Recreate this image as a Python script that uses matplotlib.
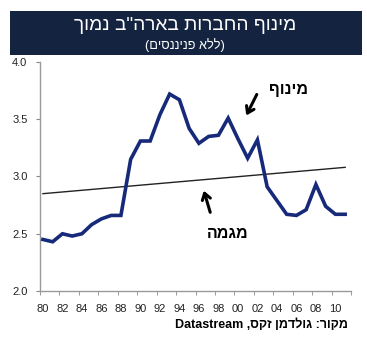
import matplotlib
matplotlib.use("Agg")
import matplotlib.pyplot as plt
from matplotlib.patches import Rectangle
import numpy as np

# ---- data ----
years = list(range(1980, 2012))
leverage = [2.45, 2.43, 2.50, 2.48, 2.50, 2.58, 2.63, 2.66, 2.66, 3.15,
            3.31, 3.31, 3.54, 3.72, 3.67, 3.42, 3.29, 3.35, 3.36, 3.51,
            3.33, 3.16, 3.32, 2.91, 2.79, 2.67, 2.66, 2.71, 2.93, 2.74,
            2.67, 2.67]
trend_years = [1980, 2011]
trend_values = [2.85, 3.08]
yticks = [2.0, 2.5, 3.0, 3.5, 4.0]
xtick_years = list(range(1980, 2011, 2))
xtick_labels = ["80", "82", "84", "86", "88", "90", "92", "94", "96", "98",
                "00", "02", "04", "06", "08", "10"]

# Hebrew strings in visual (left-to-right) order
title_text = "ךומנ ב\"הראב תורבחה ףונימ"
subtitle_text = "(םיסננינפ אלל)"
label_leverage = "ףונימ"
label_trend = "המגמ"
source_text = "Datastream ,סקז ןמדלוג :רוקמ"

FAM = ["Liberation Sans", "DejaVu Sans"]
plt.rcParams["font.family"] = FAM

W, H = 367, 340
fig = plt.figure(figsize=(W / 100, H / 100), dpi=100)
fig.patch.set_facecolor("white")

# title box
fig.patches.append(Rectangle((10 / W, 1 - 55 / H), 352 / W, 44 / H,
                             transform=fig.transFigure, facecolor="#14233f",
                             edgecolor="none", zorder=0))
fig.text(185.5 / W, 1 - 25 / H, title_text, color="white", fontsize=13.8,
         ha="center", va="center")
fig.text(185 / W, 1 - 45 / H, subtitle_text, color="white", fontsize=9.2,
         ha="center", va="center")

ax = fig.add_axes([40 / W, 1 - 291 / H, 311 / W, (291 - 62) / H])
ax.plot(years, leverage, color="#172a7a", lw=2.6, solid_joinstyle="miter",
        zorder=3)
ax.plot(trend_years, trend_values, color="#222222", lw=1.0, zorder=2)

ax.set_xlim(1979.7, 2011.6)
ax.set_ylim(2.0, 4.0)
ax.set_yticks(yticks)
ax.set_yticklabels([f"{v:.1f}" for v in yticks])
ax.set_xticks(xtick_years)
ax.set_xticklabels(xtick_labels)
ax.set_xticks(np.linspace(1979.7, 2011.6, 17), minor=True)
ax.tick_params(axis="x", which="major", length=0, pad=9, labelsize=8,
               colors="#222222")
ax.tick_params(axis="x", which="minor", length=3, color="#888888",
               direction="out")
ax.tick_params(axis="y", which="major", length=3, color="#888888",
               labelsize=8, labelcolor="#222222", pad=6)
for s in ["top", "right"]:
    ax.spines[s].set_visible(False)
for s in ["left", "bottom"]:
    ax.spines[s].set_color("#999999")
    ax.spines[s].set_linewidth(1.0)

# annotations (positions in pixel coordinates of the figure)
def fig_xy(px, py):
    return (px / W, 1 - py / H)

fig.text(288.5 / W, 1 - 90 / H, label_leverage, fontsize=11.5,
         fontweight="heavy", ha="center", va="center", color="black")
fig.text(227.5 / W, 1 - 233.5 / H, label_trend, fontsize=11.5,
         fontweight="heavy", ha="center", va="center", color="black")
ax.annotate("", xy=fig_xy(245, 118), xycoords="figure fraction",
            xytext=fig_xy(258, 92), textcoords="figure fraction",
            arrowprops=dict(arrowstyle="->,head_length=0.45,head_width=0.3",
                            color="black", lw=2.2))
ax.annotate("", xy=fig_xy(203, 188), xycoords="figure fraction",
            xytext=fig_xy(211, 215), textcoords="figure fraction",
            arrowprops=dict(arrowstyle="->,head_length=0.45,head_width=0.3",
                            color="black", lw=2.2))

fig.text(348 / W, 1 - 324.5 / H, source_text, fontsize=9, fontweight="bold",
         ha="right", va="center", color="black")

fig.savefig("out.png", dpi=100, facecolor="white")
